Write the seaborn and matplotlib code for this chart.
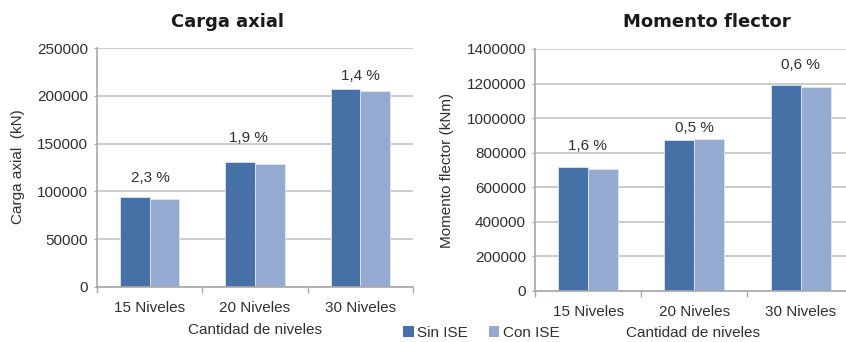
import matplotlib
matplotlib.use("Agg")
import matplotlib.pyplot as plt
from matplotlib.patches import Patch
from matplotlib.ticker import FuncFormatter, FixedLocator
import seaborn as sns
import pandas as pd

# Datos
niveles = ["15 Niveles", "20 Niveles", "30 Niveles"]
series = ["Sin ISE", "Con ISE"]
carga_sin = [94000, 131000, 207500]
carga_con = [91840, 128500, 204600]
carga_dif = ["2,3 %", "1,9 %", "1,4 %"]
momento_sin = [715000, 875000, 1190000]
momento_con = [703560, 879400, 1182900]
momento_dif = ["1,6 %", "0,5 %", "0,6 %"]

colores = ["#4571a6", "#94aad0"]
texto = "#303030"
rejilla = "#c4c4c4"
eje = "#a8a8a8"

sns.set_theme(style="white")
plt.rcParams["font.family"] = ["Liberation Sans", "DejaVu Sans"]

W, H = 846, 342
fig = plt.figure(figsize=(W / 100, H / 100), dpi=100)


def frame(df_sin, df_con):
    return pd.DataFrame({
        "nivel": niveles * 2,
        "serie": [series[0]] * 3 + [series[1]] * 3,
        "valor": list(df_sin) + list(df_con),
    })


def panel(rect, sin, con, dif, ymax, ystep, label_dy, label_dx):
    x0, y0, x1, y1 = rect
    ax = fig.add_axes([x0 / W, 1 - y1 / H, (x1 - x0) / W, (y1 - y0) / H])
    sns.barplot(data=frame(sin, con), x="nivel", y="valor", hue="serie",
                palette=colores, saturation=1, width=0.564, gap=0, ax=ax,
                legend=False, linewidth=0.6, edgecolor="#dfe6f0")
    ax.set_xlim(-0.5, 2.5)
    ax.set_ylim(0, ymax)
    ax.yaxis.set_major_locator(FixedLocator(list(range(0, ymax + 1, ystep))))
    ax.yaxis.set_major_formatter(FuncFormatter(lambda v, p: f"{int(v)}"))
    ax.set_axisbelow(True)
    ax.grid(axis="y", color=rejilla, linewidth=1.2)
    for s in ("top", "right"):
        ax.spines[s].set_visible(False)
    for s in ("left", "bottom"):
        ax.spines[s].set_color(eje)
        ax.spines[s].set_linewidth(1.2)
    ax.set_xticks([0, 1, 2])
    ax.set_xticks([-0.5, 0.5, 1.5, 2.5], minor=True)
    ax.tick_params(axis="x", which="major", length=0, pad=10,
                   labelsize=11, labelcolor=texto)
    ax.tick_params(axis="x", which="minor", length=4, width=1.0,
                   color=eje, direction="out", bottom=True)
    ax.tick_params(axis="y", length=2.5, width=1.0, color=eje,
                   direction="out", left=True, pad=4,
                   labelsize=11, labelcolor=texto)
    ax.set_xlabel("")
    ax.set_ylabel("")
    for i, t in enumerate(dif):
        top = max(sin[i], con[i])
        ax.annotate(t, (i, top), xytext=(label_dx[i], label_dy[i]),
                    textcoords="offset pixels", ha="center", va="center",
                    fontsize=11, color=texto)
    return ax


panel((97, 48, 413, 287), carga_sin, carga_con, carga_dif,
      250000, 50000, [19, 24, 13], [1, -7, 0])
panel((535, 49, 853.7, 291), momento_sin, momento_con, momento_dif,
      1400000, 200000, [21, 11, 20], [-1, 0, 0])

# Títulos y rótulos de ejes
fig.text(227 / W, 1 - 22 / H, "Carga axial", ha="center", va="center",
         fontsize=13, fontweight="bold", family="DejaVu Sans", color="#1a1a1a")
fig.text(707 / W, 1 - 22 / H, "Momento flector", ha="center", va="center",
         fontsize=13, fontweight="bold", family="DejaVu Sans", color="#1a1a1a")
fig.text(18 / W, 1 - 167 / H, "Carga axial  (kN)", rotation=90,
         ha="center", va="center", fontsize=11, color=texto)
fig.text(447 / W, 1 - 170 / H, "Momento flector (kNm)", rotation=90,
         ha="center", va="center", fontsize=11, color=texto)
fig.text(255 / W, 1 - 330 / H, "Cantidad de niveles", ha="center",
         va="center", fontsize=11, color=texto)
fig.text(693 / W, 1 - 333 / H, "Cantidad de niveles", ha="center",
         va="center", fontsize=11, color=texto)

handles = [Patch(facecolor=c, edgecolor="none") for c in colores]
fig.legend(handles, series, loc="center", bbox_to_anchor=(481 / W, 9 / H),
           ncol=2, frameon=False, fontsize=11, handlelength=0.7,
           handleheight=0.7, handletextpad=0.2, columnspacing=1.4,
           labelcolor=texto, borderpad=0)

fig.savefig("out.png", dpi=100)
